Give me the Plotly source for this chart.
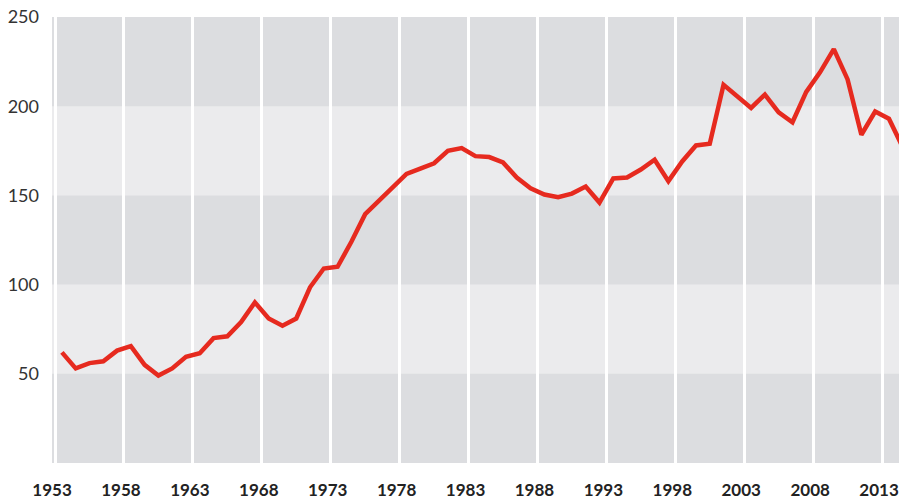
import plotly.graph_objects as go

years = list(range(1953, 2015))
values = [
    62, 53, 56, 57, 63, 65.5, 55, 49, 53, 59.5,
    61.5, 70, 71, 79, 90, 81, 77, 81, 98.5, 109,
    110, 124, 139.5, 147, 154.5, 162, 165, 168, 175, 176.5,
    172, 171.5, 168.5, 160, 154, 150.5, 149, 151, 155, 146,
    159.5, 160, 164.5, 170, 158, 169, 178, 179, 212, 205.5,
    199, 206.5, 196.5, 191, 208, 219, 232, 215, 184, 197,
    193, 177,
]

tick_years = [1953, 1958, 1963, 1968, 1973, 1978, 1983, 1988, 1993, 1998, 2003, 2008, 2013]
y_ticks = [50, 100, 150, 200, 250]
light_bands = [(50, 100), (150, 200)]

dark_gray = '#dcdde0'
light_gray = '#ebebed'
red = '#e62a1f'

fig = go.Figure()
fig.add_trace(go.Scatter(x=years, y=values, mode='lines',
                         line=dict(color=red, width=4.5), hoverinfo='skip'))

# lighter bands behind the grid
for lo, hi in light_bands:
    fig.add_shape(type='rect', xref='paper', yref='y', x0=0, x1=1, y0=lo, y1=hi,
                  fillcolor=light_gray, line_width=0, layer='below')

fig.update_layout(
    width=899, height=501,
    margin=dict(l=52, r=0, t=17, b=38),
    paper_bgcolor='white',
    plot_bgcolor=dark_gray,
    showlegend=False,
    font=dict(family='Lato, Inter, sans-serif', color='#2a2a2a'),
)
# points sit mid-year, gridlines on the year boundary
fig.update_xaxes(
    range=[1952.28, 2013.73],
    tickvals=[t - 0.5 for t in tick_years],
    ticktext=[str(t) for t in tick_years],
    showgrid=True, gridcolor='white', gridwidth=3,
    zeroline=False, showline=False, ticks='', automargin=False,
    ticklabelstandoff=15, ticklabelshift=-3, ticklabeloverflow='allow',
    tickfont=dict(size=17, family='Lato, sans-serif', weight='bold', color='#222222'),
)
fig.update_yaxes(
    range=[0, 250],
    tickvals=y_ticks,
    showgrid=False, zeroline=False, showline=False, ticks='', automargin=False,
    ticklabelstandoff=12,
    tickfont=dict(size=18, family='Lato, sans-serif', color='#333333'),
)

fig.write_html("out.html", config={'displayModeBar': False},
               post_script="document.body.style.margin='0';document.body.style.overflow='hidden';")
